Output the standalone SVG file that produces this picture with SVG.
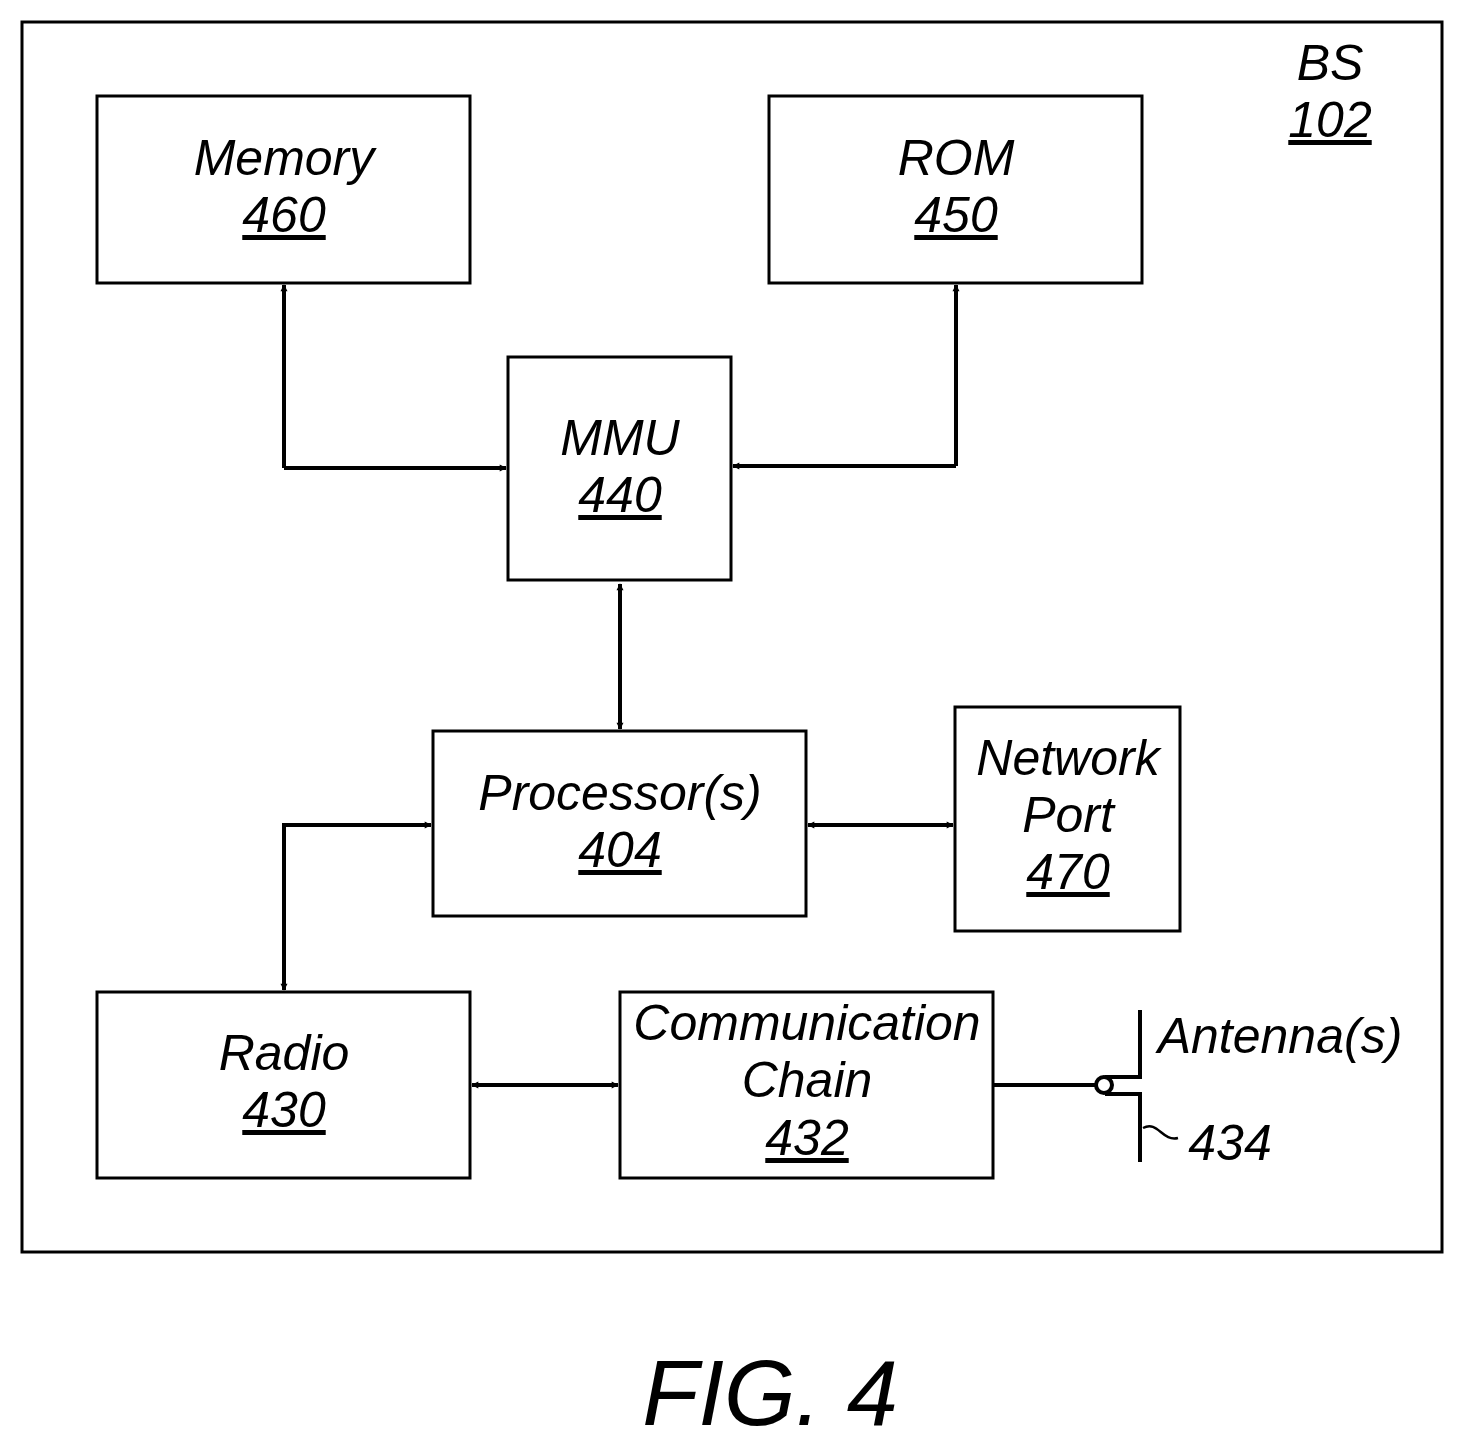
<svg xmlns="http://www.w3.org/2000/svg" width="1464" height="1450" viewBox="0 0 1464 1450">
<style>
.b{fill:#fff;stroke:#000;stroke-width:3}
.t{font-family:"Liberation Sans",Arial,sans-serif;font-style:italic;font-size:50px;text-anchor:middle;fill:#000}
.u{text-decoration:underline}
.c{fill:none;stroke:#000;stroke-width:4}
</style>
<defs>
<marker id="a" viewBox="0 0 10 10" refX="9" refY="5" markerWidth="7" markerHeight="7" orient="auto-start-reverse" markerUnits="userSpaceOnUse" style="overflow:visible">
<path d="M0,0 L10,5 L0,10 Z" fill="#000" transform="scale(1)"/>
</marker>
</defs>
<rect x="0" y="0" width="1464" height="1450" fill="#fff"/>
<rect x="22" y="22" width="1420" height="1230" class="b"/>
<g id="bs"><text class="t" x="1330" y="80">BS</text><text class="t u" x="1330" y="137">102</text></g>
<g id="memory"><rect class="b" x="97" y="96" width="373" height="187"/><text class="t" x="284" y="175">Memory</text><text class="t u" x="284" y="232">460</text></g>
<g id="rom"><rect class="b" x="769" y="96" width="373" height="187"/><text class="t" x="956" y="175">ROM</text><text class="t u" x="956" y="232">450</text></g>
<g id="mmu"><rect class="b" x="508" y="357" width="223" height="223"/><text class="t" x="620" y="455">MMU</text><text class="t u" x="620" y="512">440</text></g>
<g id="proc"><rect class="b" x="433" y="731" width="373" height="185"/><text class="t" x="620" y="810">Processor(s)</text><text class="t u" x="620" y="867">404</text></g>
<g id="net"><rect class="b" x="955" y="707" width="225" height="224"/><text class="t" x="1068" y="775">Network</text><text class="t" x="1068" y="832">Port</text><text class="t u" x="1068" y="889">470</text></g>
<g id="radio"><rect class="b" x="97" y="992" width="373" height="186"/><text class="t" x="284" y="1070">Radio</text><text class="t u" x="284" y="1127">430</text></g>
<g id="comm"><rect class="b" x="620" y="992" width="373" height="186"/><text class="t" x="807" y="1040">Communication</text><text class="t" x="807" y="1097">Chain</text><text class="t u" x="807" y="1155">432</text></g>
<g id="antenna">
<path class="c" d="M1140,1010 V1077 H1105 M1105,1094 H1140 V1162"/>
<circle cx="1104" cy="1085" r="8" fill="#fff" stroke="#000" stroke-width="4"/>
<path d="M1143,1128 C1158,1120 1162,1142 1178,1138" fill="none" stroke="#000" stroke-width="2.5"/>
<text class="t" x="1280" y="1053">Antenna(s)</text>
<text class="t" x="1230" y="1160">434</text>
</g>
<g id="connectors" class="c">
<path d="M284,468 V285" marker-end="url(#a)" stroke-width="4" fill="none" stroke="#000" style="marker-end:url(#a)"/>
<path d="M284,468 H506" marker-end="url(#a)"/>
<path d="M956,466 V285" marker-end="url(#a)"/>
<path d="M956,466 H733" marker-end="url(#a)"/>
<path d="M620,584 V729" marker-start="url(#a)" marker-end="url(#a)"/>
<path d="M808,825 H953" marker-start="url(#a)" marker-end="url(#a)"/>
<path d="M431,825 H284 V990" marker-start="url(#a)" marker-end="url(#a)"/>
<path d="M472,1085 H618" marker-start="url(#a)" marker-end="url(#a)"/>
<path d="M993,1085 H1096"/>
</g>
<text class="t" x="770" y="1425" style="font-size:92px">FIG. 4</text>
</svg>
